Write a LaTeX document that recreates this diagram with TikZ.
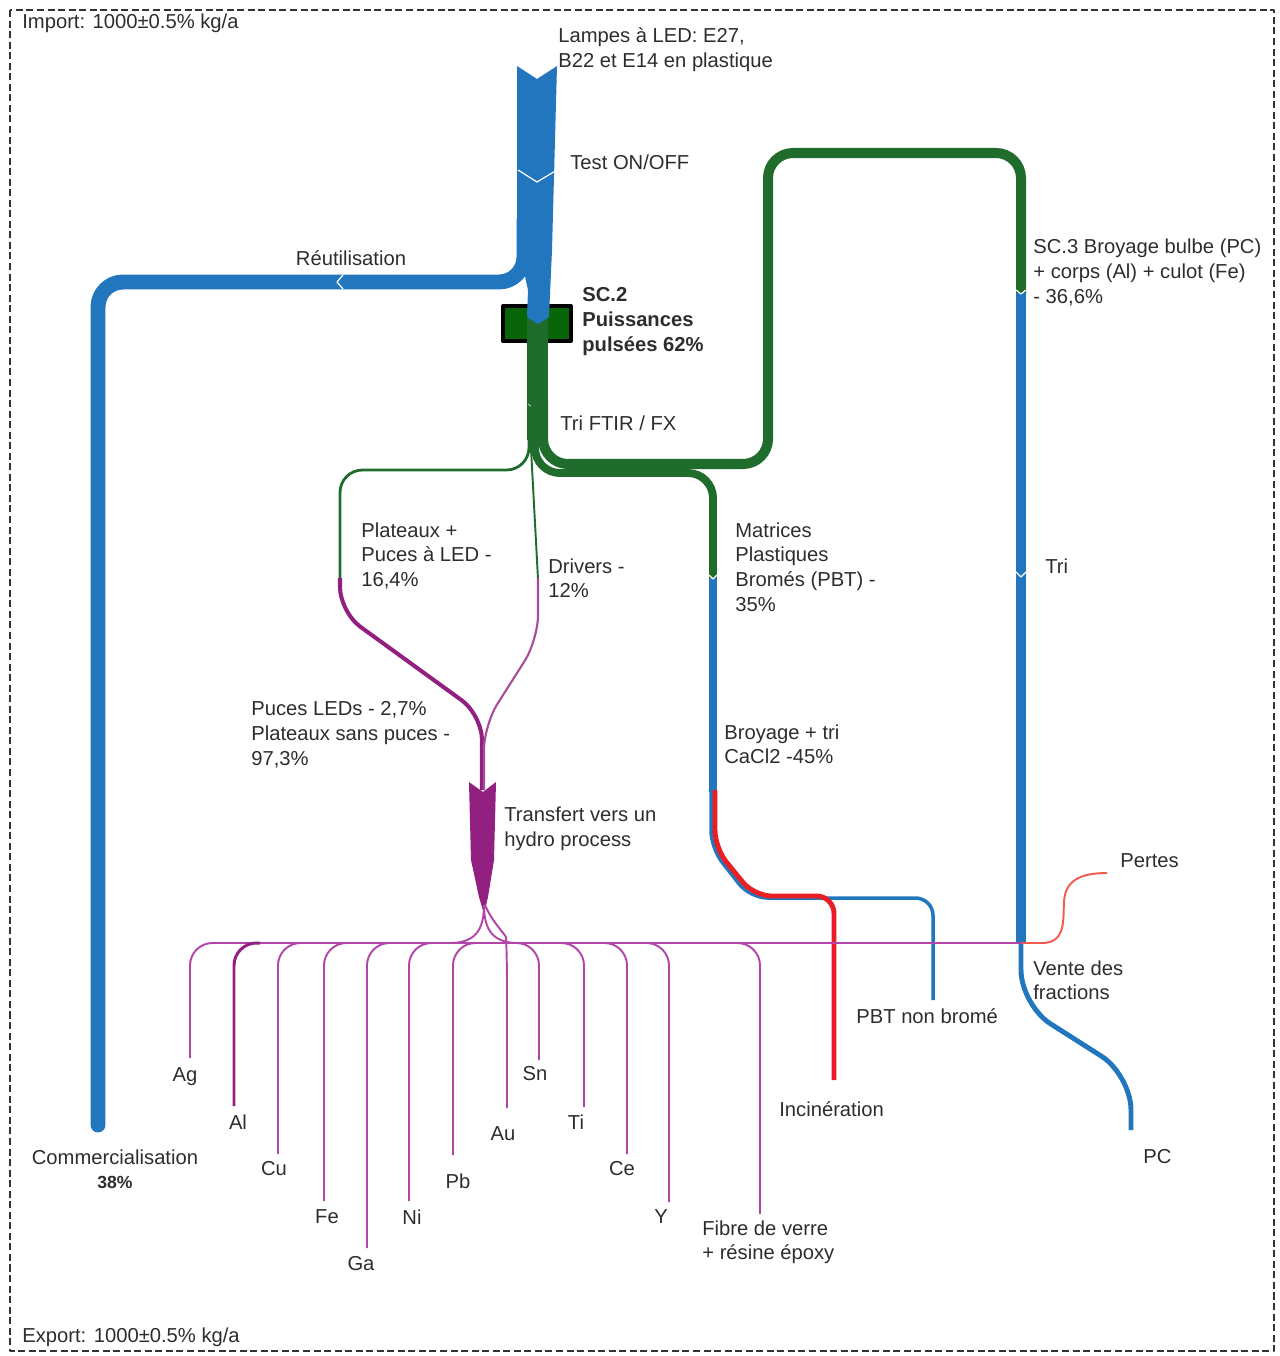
\documentclass[tikz,border=0pt]{standalone}
\usepackage{fontspec}
\setmainfont{Liberation Sans}
\usepackage{tikz}
\definecolor{flowblue}{RGB}{33,118,189}
\definecolor{flowgreen}{RGB}{32,108,44}
\definecolor{boxgreen}{RGB}{8,102,8}
\definecolor{flowpurple}{RGB}{146,32,128}
\definecolor{fanpurple}{RGB}{178,70,168}
\definecolor{flowred}{RGB}{232,32,36}
\definecolor{lossred}{RGB}{240,92,80}
\definecolor{txt}{RGB}{45,45,45}
\tikzset{
  lbl/.style={anchor=north west, inner sep=0pt, align=left, text=txt, font=\fontsize{11.5}{14.2}\selectfont},
  elem/.style={lbl, anchor=north, align=center},
  fan/.style={draw=fanpurple, line width=1.1pt, rounded corners=0.45cm},
  sep/.style={white, line width=0.7pt},
}
\begin{document}
\begin{tikzpicture}[x=0.02cm,y=-0.02cm,line join=round]
  \useasboundingbox (0,0) rectangle (1279,1356);
  \draw[dash pattern=on 4pt off 2pt, line width=1.4pt, black!80] (10,10) rectangle (1274,1351);
  % reutilisation
  \draw[flowblue, line width=8.5pt, rounded corners=0.5cm, line cap=round] (524,220) -- (524,282) -- (98,282) -- (98,1125);
  \draw[sep] (343,275) -- (337,282) -- (343,289);
  % SC.2 box and stems
  \draw[fill=boxgreen, line width=2.3pt] (503,306) rectangle (571,341);
  \fill[flowgreen] (527,318) rectangle (548,440);
  \fill[flowblue] (517,66) -- (537,79) -- (557,66) -- (552,250) -- (549,317) -- (538,324) -- (527,317) -- (528,290) -- (517,240) -- cycle;
  \draw[sep] (518,170) -- (537,182) -- (557,170);
  \draw[white!55!flowgreen, line width=0.6pt] (528,404) -- (537,411) -- (547,404);
  % SC.3 loop
  \draw[flowgreen, line width=5.7pt, rounded corners=0.5cm] (543,400) -- (543,464) -- (768,464) -- (768,153) -- (1021,153) -- (1021,294);
  \draw[flowblue, line width=5.7pt] (1021,293) -- (1021,944);
  \draw[flowblue, line width=2.8pt, rounded corners=0.7cm] (1021,940) -- (1021,1005) -- (1131,1075) -- (1131,1130);
  \draw[sep] (1016,290) -- (1021,294) -- (1026,290);
  \draw[sep] (1016,572) -- (1021,577) -- (1026,572);
  % matrices PBT
  \draw[flowgreen, line width=4.5pt, rounded corners=0.5cm] (535,400) -- (535,473) -- (713,473) -- (713,579);
  \draw[flowblue, line width=4.3pt] (713,578) -- (713,792);
  \draw[flowblue, line width=2pt, rounded corners=0.35cm] (711,790) -- (711,848) -- (750,898) -- (933,898) -- (933,1000);
  \draw[flowred, line width=2.8pt, rounded corners=0.35cm] (715,790) -- (715,848) -- (754,896) -- (834,896) -- (834,1080);
  \draw[sep] (709,575) -- (713,579) -- (717,575);
  % plateaux and drivers
  \draw[flowgreen, line width=1.6pt, rounded corners=0.45cm] (529,420) -- (529,470) -- (340,470) -- (340,579);
  \draw[flowgreen, line width=1.1pt] (530,430) -- (538,579);
  \draw[flowpurple, line width=2.3pt, rounded corners=0.5cm] (340,578) -- (340,612) -- (482,715) -- (482,790);
  \draw[flowpurple!80, line width=1.2pt, rounded corners=0.5cm] (538,578) -- (538,640) -- (484,725) -- (484,790);
  \fill[flowpurple] (469,782) -- (483,792) -- (496,782) -- (494,860) -- (488,897) -- (484,914) -- (479,897) -- (471,860) -- cycle;
  % hydro fan
  \draw[fanpurple, line width=1.1pt] (215,943) -- (1022,943);
  \draw[fan] (484,905) .. controls (484,930) and (475,943) .. (450,943);
  \draw[fan] (484,905) .. controls (484,930) and (493,943) .. (518,943);
  \draw[fan] (485,905) .. controls (492,922) and (506,935) .. (507,960) -- (507,1108);
  \foreach \x/\y in {190/1058, 278/1154, 324/1201, 367/1248, 409/1201, 453/1155}
    \draw[fan] (\x+26,943) -- (\x,943) -- (\x,\y);
  \draw[fan, draw=flowpurple, line width=1.7pt] (260,943) -- (234,943) -- (234,1106);
  \foreach \x/\y in {539/1060, 584/1107, 627/1154, 669/1202, 760/1214}
    \draw[fan] (\x-26,943) -- (\x,943) -- (\x,\y);
  \draw[lossred, line width=1.1pt] (1022,943) -- (1042,943) .. controls (1066,943) and (1063,920) .. (1064,902) .. controls (1065,882) and (1078,873) .. (1107,873);
  % labels
  \node[lbl] (imp) at (22,14) {Import: 1000±0.5\% kg/a};
  \node[lbl] (exp) at (22,1327) {Export: 1000±0.5\% kg/a};
  \node[lbl] (lamp) at (558,27) {Lampes à LED: E27,\\B22 et E14 en plastique};
  \node[lbl] (test) at (570,155) {Test ON/OFF};
  \node[lbl, anchor=base] (reut) at (351,265) {Réutilisation};
  \node[lbl, font=\fontsize{11.5}{14.2}\selectfont\bfseries] (sc2) at (582,287) {SC.2\\Puissances\\pulsées 62\%};
  \node[lbl] (ftir) at (560,416) {Tri FTIR / FX};
  \node[lbl] (sc3) at (1033,239) {SC.3 Broyage bulbe (PC)\\+ corps (Al) + culot (Fe)\\- 36,6\%};
  \node[lbl] (plat) at (361,522) {Plateaux +\\Puces à LED -\\16,4\%};
  \node[lbl] (drv) at (548,558) {Drivers -\\12\%};
  \node[lbl] (matr) at (735,522) {Matrices\\Plastiques\\Bromés (PBT) -\\35\%};
  \node[lbl] (tri) at (1045,558) {Tri};
  \node[lbl] (puces) at (251,701) {Puces LEDs - 2,7\%\\Plateaux sans puces -\\97,3\%};
  \node[lbl] (broy) at (724,724) {Broyage + tri\\CaCl2 -45\%};
  \node[lbl] (hydro) at (504,807) {Transfert vers un\\hydro process};
  \node[lbl] (pertes) at (1120,853) {Pertes};
  \node[lbl] (vente) at (1033,960) {Vente des\\fractions};
  \node[lbl] (pbt) at (856,1008) {PBT non bromé};
  \node[lbl] (incin) at (779,1101) {Incinération};
  \node[lbl] (pc) at (1143,1149) {PC};
  \node[elem] (comm) at (115,1149) {Commercialisation\\{\fontsize{10}{12}\selectfont\bfseries 38\%}};
  \foreach \n/\x/\y in {Ag/185/1067, Al/238/1114, Cu/274/1161, Fe/327/1209, Ga/361/1256, Ni/412/1209, Pb/458/1173, Au/503/1126, Sn/535/1066, Ti/576/1114, Ce/622/1161, Y/661/1209}
    \node[elem] (el\n) at (\x,\y) {\n};
  \node[lbl] (fibre) at (702,1220) {Fibre de verre\\+ résine époxy};
\end{tikzpicture}
\end{document}
